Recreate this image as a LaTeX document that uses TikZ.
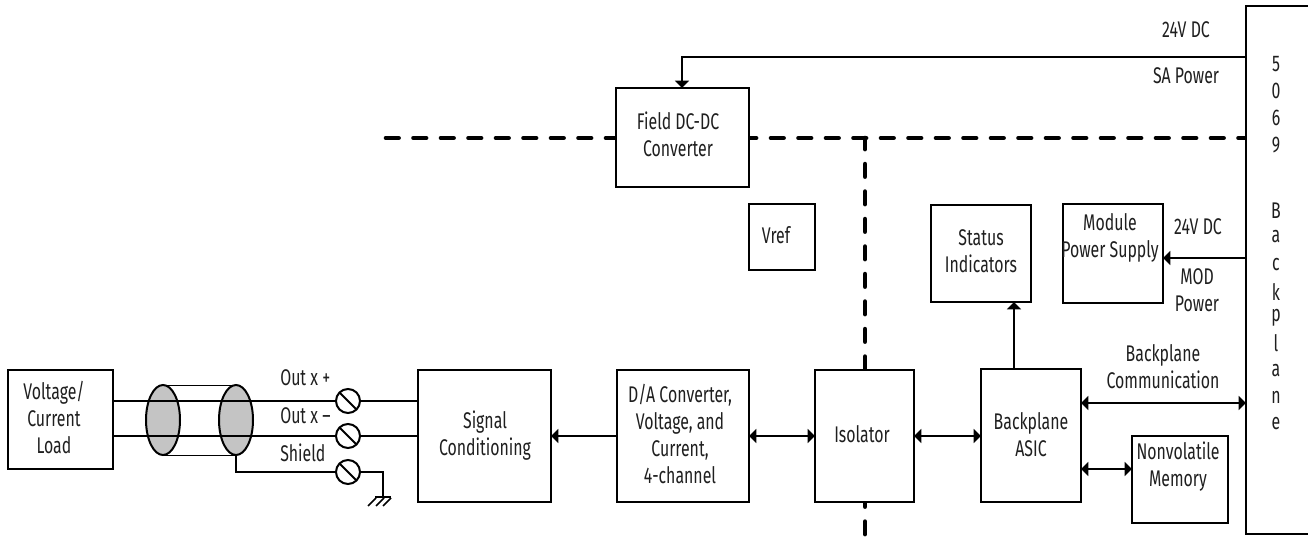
\documentclass[tikz,border=0pt]{standalone}
\usepackage{fontspec}
\setmainfont[FakeStretch=0.70]{Fira Sans}
\usetikzlibrary{arrows.meta,shapes.geometric}
\tikzset{
  x=0.75pt,y=-0.75pt,
  box/.style 2 args={draw=black,line width=1.5pt,fill=white,inner sep=0pt,outer sep=0pt,minimum width=#1*0.75pt,minimum height=#2*0.75pt,anchor=north west},
  txt/.style={align=center,font=\fontsize{17}{20.25}\selectfont,inner sep=0pt,text=black!88},
  wire/.style={draw=black,line width=1.5pt},
  thinw/.style={draw=black,line width=0.7pt},
  tip/.style={wire,{Triangle[length=5.5pt,width=10.5pt]}-},
  tipb/.style={wire,{Triangle[length=5.5pt,width=10.5pt]}-{Triangle[length=5.5pt,width=10.5pt]}},
  iso/.style={draw=black,line width=3.5pt,line cap=round,dash pattern=on 9.4pt off 11.225pt},
  shieldell/.style={ellipse,draw=black,line width=1.5pt,fill=black!23,inner sep=0pt,outer sep=0pt,minimum width=25.5pt,minimum height=52.5pt},
  term/.style={circle,draw=black,line width=1.5pt,fill=white,inner sep=0pt,outer sep=0pt,minimum size=18pt}
}
\begin{document}
\begin{tikzpicture}
\useasboundingbox (0,0) rectangle (1308,538);
% isolation barrier
\coordinate (isoL) at (386,138);
\coordinate (isoR) at (1245,138);
\coordinate (isoT) at (865,138);
\coordinate (isoB) at (865,536);
\draw[iso] (isoL) -- (isoR);
\draw[iso,dash phase=1.05pt] (isoT) -- (isoB);
% boxes
\node[box={105}{99}] (load) at (8,370) {};
\node[box={133}{132}] (sig) at (418,370) {};
\node[box={132}{132}] (da) at (617,370) {};
\node[box={99}{132}] (isol) at (815,370) {};
\node[box={100}{133}] (asic) at (981,369) {};
\node[box={96}{87}] (nv) at (1132,436) {};
\node[box={100}{97}] (stat) at (931,205) {};
\node[box={100}{99}] (mod) at (1063,204) {};
\node[box={66}{66}] (vref) at (749,204) {};
\node[box={133}{99}] (field) at (616,88) {};
\node[box={80}{528}] (back) at (1246,6) {};
% box texts
\node[txt] at (54,417) {Voltage/\\Current\\Load};
\node[txt] at (485,436) {Signal\\Conditioning};
\node[txt] at (680,434) {D/A Converter,\\Voltage, and\\Current,\\4-channel};
\node[txt] at (862,434) {Isolator};
\node[txt] at (1031,435) {Backplane\\ASIC};
\node[txt] at (1178,467) {Nonvolatile\\Memory};
\node[txt] at (981,251) {Status\\Indicators};
\node[txt] at (1110,238) {Module\\Power Supply};
\node[txt] at (776,235) {Vref};
\node[txt] at (678,134) {Field DC-DC\\Converter};
\node[txt] at (1186,30) {24V DC};
\node[txt] at (1186,76) {SA Power};
\node[txt] at (1198,227) {24V DC};
\node[txt] at (1197,290) {MOD\\Power};
\node[txt] at (1163,367) {Backplane\\Communication};
\node[txt,anchor=west] at (280,378) {Out x +};
\node[txt,anchor=west] at (280,416) {Out x –};
\node[txt,anchor=west] at (280,453) {Shield};
\foreach \c/\y in {5/64,0/91,6/118,9/145,B/211,a/237,c/265,k/292,p/318,l/343,a/371,n/397,e/424}{
  \node[txt] at (1276,\y) {\c};
}
% cable
\node[shieldell] (e1) at (163,420) {};
\node[shieldell] (e2) at (236,420) {};
\draw[thinw] (e1.north) -- (e2.north);
\draw[thinw] (e1.south) -- (e2.south);
% terminals
\node[term] (t1) at (348,401) {};
\node[term] (t2) at (348,436) {};
\node[term] (t3) at (348,472) {};
\foreach \t in {t1,t2,t3}{\draw[wire] (\t.north west) -- (\t.south east);}
\draw[wire] (load.east |- t1) -- (t1.west);
\draw[wire] (load.east |- t2) -- (t2.west);
\draw[wire] (t1.east) -- (sig.west |- t1);
\draw[wire] (t2.east) -- (sig.west |- t2);
\draw[wire] (e2.south) |- (t3.west);
% ground
\coordinate (gnd) at (383,497);
\draw[wire] (t3.east) -| (gnd);
\draw[wire,line width=1.1pt] (375,497) -- (391,497);
\foreach \gx in {376,384,391}{\draw[wire,line width=1.1pt] (\gx,498) -- (\gx-8,506);}
% connectors
\draw[tip] (sig.east |- t2) -- (da.west |- t2);
\draw[tipb] (da.east |- t2) -- (isol.west |- t2);
\draw[tipb] (isol.east |- t2) -- (asic.west |- t2);
\coordinate (sa) at (682,57);
\draw[tip] (field.north -| sa) -- (sa) -- (back.west |- sa);
\coordinate (modc) at (1163,258);
\draw[tip] (mod.east |- modc) -- (back.west |- modc);
\coordinate (comm) at (1081,403);
\draw[tipb] (asic.east |- comm) -- (back.west |- comm);
\coordinate (nvc) at (1081,469);
\draw[tipb] (asic.east |- nvc) -- (nv.west |- nvc);
\coordinate (stc) at (1014,302);
\draw[tip] (stat.south -| stc) -- (asic.north -| stc);
\end{tikzpicture}
\end{document}
